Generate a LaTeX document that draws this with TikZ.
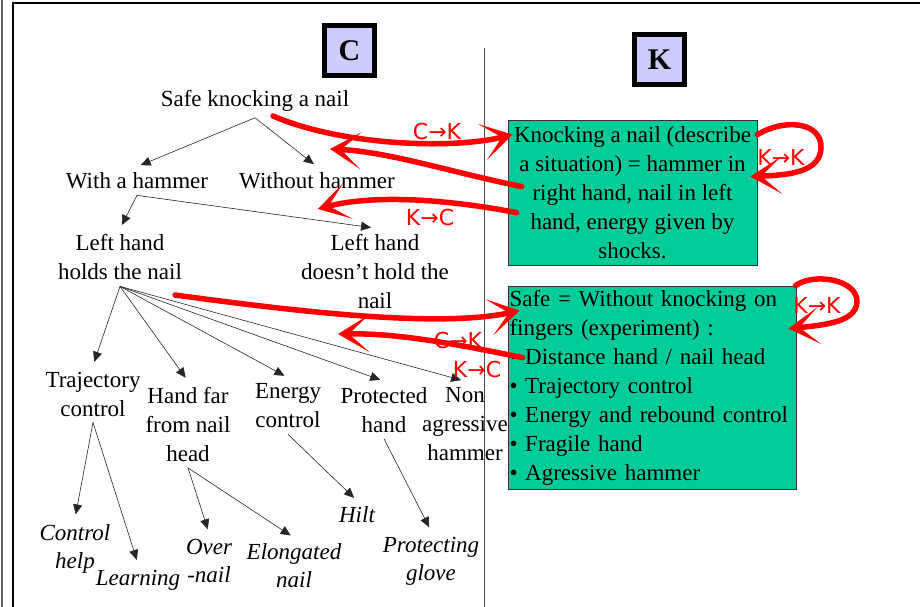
\documentclass[tikz,border=0pt]{standalone}
\usepackage{fontspec}
\setmainfont{Liberation Serif}
\newfontfamily\markfont{DejaVu Sans}
\usetikzlibrary{arrows.meta,calc}
\definecolor{boxgreen}{HTML}{00CC99}
\definecolor{tagfill}{HTML}{CCCCFF}
\definecolor{pen}{HTML}{FF0000}
\begin{document}
\begin{tikzpicture}[x=1pt,y=-1pt,
  txt/.style={font=\fontsize{23}{29}\selectfont, align=center, inner xsep=1pt, inner ysep=6pt},
  leaf/.style={font=\fontsize{23}{28}\selectfont\itshape, align=center, inner xsep=1pt, inner ysep=6pt},
  branch/.style={draw=black!85, line width=0.6pt, shorten >=4pt, -{Triangle[length=10pt,width=9pt]}},
  tag/.style={draw=black, line width=5pt, fill=tagfill, minimum size=50pt, inner sep=0pt,
    font=\fontsize{30}{30}\selectfont\bfseries},
  knowbox/.style={draw=black!80, line width=0.8pt, fill=boxgreen, inner sep=0pt,
    font=\fontsize{23}{29}\selectfont},
  link/.style={draw=pen, line width=5.5pt, line cap=round,
    -{Stealth[length=31pt,width=37pt,inset=20pt]}},
  linktag/.style={text=pen, font=\markfont\fontsize{22}{22}\selectfont, inner sep=0pt},
]
\useasboundingbox (0,0) rectangle (920,607);

% page frame and column divider
\draw[black!60, line width=1.5pt] (2,0) -- (2,607);
\draw[black, line width=2.5pt] (13,607) -- (13,3) -- (920,3);
\draw[black!70, line width=0.8pt] (484,48) -- (484,607);

% column headers
\node[tag] (ctag) at (349.5,51) {C};
\node[tag] (ktag) at (659.5,59.5) {K};

% concept tree
\node[txt] (safe) at (255,101) {Safe knocking a nail};
\node[txt] (with) at (137,181) {With a hammer};
\node[txt] (without) at (317,181) {Without hammer};
\node[txt] (holds) at (120,257.5) {Left hand\\holds the nail};
\node[txt] (free) at (375,271.5) {Left hand\\doesn’t hold the\\nail};
\node[txt] (traj) at (93,394) {Trajectory\\control};
\node[txt] (far) at (188,424.5) {Hand far\\from nail\\head};
\node[txt] (energy) at (288,406) {Energy\\control};
\node[txt] (prot) at (384,410) {Protected\\hand};
\node[txt] (nonag) at (465,424) {Non\\agressive\\hammer};

\node[leaf] (help) at (75,549) {Control\\help};
\node[leaf] (learn) at (138,580) {Learning};
\node[leaf] (over) at (209,561) {Over\\-nail};
\node[leaf] (elong) at (294,566) {Elongated\\nail};
\node[leaf] (hilt) at (357,515) {Hilt};
\node[leaf] (glove) at (431,561) {Protecting\\glove};

\draw[branch] (safe.south) -- (with.north);
\draw[branch] (safe.south) -- (without.north);
\draw[branch] (with.south) -- (holds.north);
\draw[branch] (with.south) -- (free.north);
\foreach \t in {traj,far,energy,prot,nonag}
  \draw[branch] (holds.south) -- (\t.north);
\draw[branch] (traj.south) -- (help.north);
\draw[branch] (traj.south) -- (learn.north);
\draw[branch] (far.south) -- (over.north);
\draw[branch] (far.south) -- (elong.north);
\draw[branch] (energy.south) -- (hilt.north);
\draw[branch] (prot.south) -- (glove.north);

% knowledge boxes
\node[knowbox, minimum width=249pt, minimum height=145pt, align=center] (box1) at (632.5,192.5)
  {Knocking a nail (describe\\a situation) = hammer in\\right hand, nail in left\\hand, energy given by\\shocks.};
\node[knowbox, minimum width=288pt, minimum height=203pt, text width=285pt, align=left,
  inner xsep=1.5pt] (box2) at (652,387.5)
  {Safe = Without knocking on\\fingers (experiment) :\\• Distance hand / nail head\\• Trajectory control\\• Energy and rebound control\\• Fragile hand\\• Agressive hammer};

% hand-drawn transfer arrows
\coordinate (s1) at (273,116);
\coordinate (e2) at (330,149);
\coordinate (e3) at (318,209);
\coordinate (s5) at (175,295);
\coordinate (e6) at (338,334);

\draw[link] (s1) .. controls (340,145) and (450,150) .. ($(box1.north west)+(5,15)$);
\draw[link] ($(box1.north west)+(14,67)$) .. controls (450,172) and (390,152) .. (e2);
\draw[link] ($(box1.north west)+(9,93)$) .. controls (440,198) and (370,195) .. (e3);
\draw[link] ($(box1.north east)+(0,15)$) .. controls (785,118) and (822,122) .. (821,148)
  .. controls (820,172) and (790,175) .. ($(box1.north east)+(-7,57)$);

\draw[link] (s5) .. controls (300,312) and (440,328) .. ($(box2.north west)+(12,25)$);
\draw[link] ($(box2.north west)+(15,72)$) .. controls (460,345) and (400,333) .. (e6);
\draw[link] ($(box2.north east)+(-1,0)$) .. controls (815,272) and (858,280) .. (857,302)
  .. controls (856,322) and (825,325) .. ($(box2.north east)+(-8,43)$);

\node[linktag] (l1) at (437,131) {C→K};
\node[linktag] (l2) at (430,217) {K→C};
\node[linktag] (l3) at (781,157) {K→K};
\node[linktag] (l4) at (458,340) {C→K};
\node[linktag] (l5) at (477,369) {K→C};
\node[linktag] (l6) at (817,305) {K→K};
\end{tikzpicture}
\end{document}
